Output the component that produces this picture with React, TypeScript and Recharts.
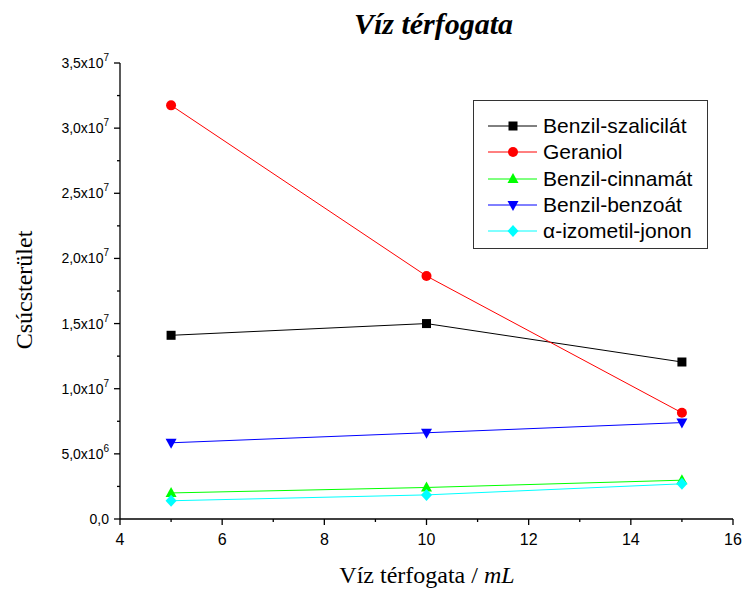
import React from "react";
import { LineChart, Line, XAxis, YAxis } from "recharts";

// water volume (mL)
const volumes = [5, 10, 15];

const benzilSzalicilat = [1.41e7, 1.5e7, 1.205e7];
const geraniol = [3.175e7, 1.865e7, 8.15e6];
const benzilCinnamat = [2.0e6, 2.42e6, 2.98e6];
const benzilBenzoat = [5.85e6, 6.62e6, 7.4e6];
const izometilJonon = [1.4e6, 1.85e6, 2.7e6];

const xTicks = [4, 5, 6, 7, 8, 9, 10, 11, 12, 13, 14, 15, 16];
const yTicks = [
  0, 2.5e6, 5e6, 7.5e6, 1e7, 1.25e7, 1.5e7, 1.75e7, 2e7, 2.25e7, 2.5e7,
  2.75e7, 3e7, 3.25e7, 3.5e7,
];

type Shape = "square" | "circle" | "up" | "down" | "diamond";

const series: { key: string; name: string; color: string; shape: Shape; values: number[] }[] = [
  { key: "bs", name: "Benzil-szalicilát", color: "#000000", shape: "square", values: benzilSzalicilat },
  { key: "ge", name: "Geraniol", color: "#ff0000", shape: "circle", values: geraniol },
  { key: "bc", name: "Benzil-cinnamát", color: "#00ff00", shape: "up", values: benzilCinnamat },
  { key: "bb", name: "Benzil-benzoát", color: "#0000ff", shape: "down", values: benzilBenzoat },
  { key: "ij", name: "α-izometil-jonon", color: "#00ffff", shape: "diamond", values: izometilJonon },
];

const data = volumes.map((v, i) => {
  const row: Record<string, number> = { v };
  series.forEach((s) => (row[s.key] = s.values[i]));
  return row;
});

const SERIF = "'Liberation Serif', 'Times New Roman', serif";
const SANS = "Arial, 'Liberation Sans', sans-serif";

function marker(shape: Shape, cx: number, cy: number, color: string, key?: React.Key) {
  switch (shape) {
    case "square":
      return <rect key={key} x={cx - 4.5} y={cy - 4.5} width={9} height={9} fill={color} />;
    case "circle":
      return <circle key={key} cx={cx} cy={cy} r={5} fill={color} />;
    case "up":
      return <polygon key={key} points={`${cx},${cy - 6} ${cx + 5.5},${cy + 4} ${cx - 5.5},${cy + 4}`} fill={color} />;
    case "down":
      return <polygon key={key} points={`${cx},${cy + 6} ${cx + 5.5},${cy - 4} ${cx - 5.5},${cy - 4}`} fill={color} />;
    default:
      return <polygon key={key} points={`${cx},${cy - 6} ${cx + 5.5},${cy} ${cx},${cy + 6} ${cx - 5.5},${cy}`} fill={color} />;
  }
}

const XTick = ({ x, y, payload }: any) => {
  const major = payload.value % 2 === 0;
  return (
    <g>
      <line x1={x} y1={y} x2={x} y2={y + (major ? 6 : 3)} stroke="#000" strokeWidth={1.3} />
      {major && (
        <text x={x} y={y + 26} textAnchor="middle" fontSize={16} fontFamily={SANS} fill="#000">
          {payload.value}
        </text>
      )}
    </g>
  );
};

const YTick = ({ x, y, payload }: any) => {
  const v = payload.value as number;
  const major = Math.round(v / 2.5e6) % 2 === 0;
  let label: React.ReactNode = null;
  if (major) {
    if (v === 0) {
      label = <tspan>0,0</tspan>;
    } else {
      const exp = Math.floor(Math.log10(v));
      const mant = (v / Math.pow(10, exp)).toFixed(1).replace(".", ",");
      label = (
        <>
          <tspan>{mant}x10</tspan>
          <tspan dy={-7} fontSize={10}>{exp}</tspan>
        </>
      );
    }
  }
  return (
    <g>
      <line x1={x} y1={y} x2={x - (major ? 6 : 3)} y2={y} stroke="#000" strokeWidth={1.3} />
      {major && (
        <text x={x - 11} y={y + 5} textAnchor="end" fontSize={14} fontFamily={SANS} fill="#000">
          {label}
        </text>
      )}
    </g>
  );
};

const LegendBox = () => (
  <div
    style={{
      position: "absolute",
      left: 473,
      top: 100,
      border: "1px solid #333",
      background: "#fff",
      width: 235,
      height: 149,
      boxSizing: "border-box",
      paddingTop: 12,
    }}
  >
    {series.map((s) => (
      <div key={s.key} style={{ display: "flex", alignItems: "center", height: 26.3 }}>
        <svg width={69} height={20} style={{ display: "block", flex: "none" }}>
          <line x1={14} y1={10} x2={63} y2={10} stroke={s.color} strokeWidth={1} />
          {marker(s.shape, 39, 10, s.color)}
        </svg>
        <span style={{ fontFamily: SANS, fontSize: 21, color: "#000", lineHeight: "22px", whiteSpace: "nowrap" }}>
          {s.name}
        </span>
      </div>
    ))}
  </div>
);

export default function App() {
  return (
    <div style={{ position: "absolute", left: 0, top: 0, width: 743, height: 591, background: "#fff" }}>
      <div
        style={{
          position: "absolute",
          left: 0,
          width: 743,
          top: 9,
          textAlign: "center",
          paddingLeft: 124,
          boxSizing: "border-box",
          fontFamily: SERIF,
          fontWeight: "bold",
          fontStyle: "italic",
          fontSize: 30,
          lineHeight: "30px",
        }}
      >
        Víz térfogata
      </div>
      <LineChart width={743} height={591} data={data} margin={{ top: 63, right: 10, left: 0, bottom: 0 }}>
        <XAxis
          dataKey="v"
          type="number"
          domain={[4, 16]}
          ticks={xTicks}
          interval={0}
          height={72}
          tickSize={0}
          tickMargin={0}
          tick={<XTick />}
          axisLine={{ stroke: "#000", strokeWidth: 1.3 }}
          tickLine={false}
          label={{
            content: () => (
              <text x={427} y={583} textAnchor="middle" fontSize={24} fontFamily={SERIF} fill="#000">
                Víz térfogata / <tspan fontStyle="italic">mL</tspan>
              </text>
            ),
          }}
        />
        <YAxis
          type="number"
          domain={[0, 3.5e7]}
          ticks={yTicks}
          interval={0}
          width={120}
          tickSize={0}
          tickMargin={0}
          tick={<YTick />}
          axisLine={{ stroke: "#000", strokeWidth: 1.3 }}
          tickLine={false}
          label={{
            content: () => (
              <text
                x={0}
                y={0}
                transform="translate(32 290) rotate(-90)"
                textAnchor="middle"
                fontSize={24}
                fontFamily={SERIF}
                fill="#000"
              >
                Csúcsterület
              </text>
            ),
          }}
        />
        {series.map((s) => (
          <Line
            key={s.key}
            dataKey={s.key}
            name={s.name}
            stroke={s.color}
            strokeWidth={1}
            isAnimationActive={false}
            dot={(p: any) => marker(s.shape, p.cx, p.cy, s.color, `${s.key}-${p.index}`)}
            activeDot={false}
          />
        ))}
      </LineChart>
      <LegendBox />
    </div>
  );
}
